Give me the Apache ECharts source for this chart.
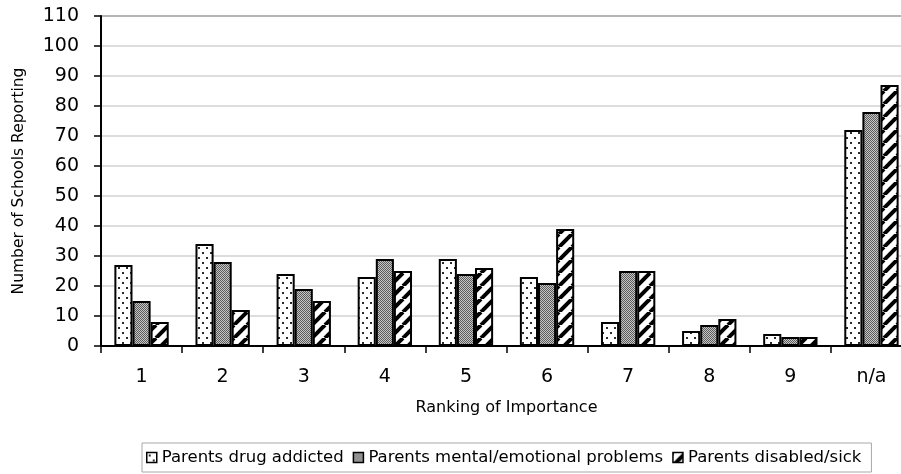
<!DOCTYPE html>
<html>
<head>
<meta charset="utf-8">
<title>Ranking of Importance</title>
<script src="https://cdn.jsdelivr.net/npm/echarts@6/dist/echarts.min.js"></script>
<style>
  html, body { margin: 0; padding: 0; background: #fff; }
  #chart { width: 901px; height: 474px; }
</style>
</head>
<body>
<div id="chart"></div>
<script>
// Ranking categories and the number of schools reporting each ranking
const categories = ['1', '2', '3', '4', '5', '6', '7', '8', '9', 'n/a'];
const drugAddicted = [27, 34, 24, 23, 29, 23, 8, 5, 4, 72];
const mentalEmotional = [15, 28, 19, 29, 24, 21, 25, 7, 3, 78];
const disabledSick = [8, 12, 15, 25, 26, 39, 25, 9, 3, 87];
const seriesNames = ['Parents drug addicted', 'Parents mental/emotional problems', 'Parents disabled/sick'];
const yMin = 0;
const yMax = 110;
const yStep = 10;

const FONT = 'DejaVu Sans';

// Small canvas tiles used as repeating fill patterns
function makeTile(w, h, draw) {
  const c = document.createElement('canvas');
  c.width = w;
  c.height = h;
  const g = c.getContext('2d');
  g.fillStyle = '#fff';
  g.fillRect(0, 0, w, h);
  draw(g, w, h);
  return c;
}

const dotTile = makeTile(8, 10, function (g) {
  g.fillStyle = '#2a2a2a';
  g.fillRect(2, 2, 2, 2);
  g.fillRect(6, 7, 2, 2);
});

const checkTile = makeTile(2, 2, function (g) {
  g.fillStyle = '#c6c6c6';
  g.fillRect(0, 0, 2, 2);
  g.fillStyle = '#5c5c5c';
  g.fillRect(0, 0, 1, 1);
  g.fillRect(1, 1, 1, 1);
});

const stripeTile = makeTile(13, 13, function (g, w, h) {
  g.strokeStyle = '#000';
  g.lineWidth = 4;
  for (let k = -1; k <= 1; k++) {
    g.beginPath();
    g.moveTo(k * w, h);
    g.lineTo(k * w + w, 0);
    g.stroke();
  }
});

const fills = [
  { image: dotTile, repeat: 'repeat' },
  { image: checkTile, repeat: 'repeat' },
  { image: stripeTile, repeat: 'repeat' }
];
const values = [drugAddicted, mentalEmotional, disabledSick];

// Light grid lines, with a darker one along the top of the plot
const gridCount = (yMax - yMin) / yStep + 1;
const gridColors = [];
for (let i = 0; i < gridCount; i++) {
  gridColors.push(i === gridCount - 1 ? '#9c9c9c' : '#d2d2d2');
}

const chart = echarts.init(document.getElementById('chart'), null, { renderer: 'canvas' });

chart.setOption({
  animation: false,
  backgroundColor: '#fff',
  textStyle: { fontFamily: FONT, color: '#000' },
  // the plot runs on past the right edge of the page
  grid: { left: 101, width: 811, top: 16, height: 330, containLabel: false, outerBoundsMode: 'none' },
  legend: {
    left: 142,
    top: 443,
    padding: [6, 10, 6, 4],
    itemWidth: 10,
    itemHeight: 10,
    itemGap: 9,
    borderColor: '#a8a8a8',
    borderWidth: 1,
    backgroundColor: '#fff',
    itemStyle: { borderWidth: 1.5, borderColor: '#000' },
    textStyle: { fontFamily: FONT, fontSize: 16.5, color: '#000' },
    data: seriesNames.map(function (n) { return { name: n, icon: 'rect' }; })
  },
  xAxis: {
    type: 'category',
    data: categories,
    axisLine: { lineStyle: { color: '#000', width: 2 } },
    axisTick: { show: true, length: 7, lineStyle: { color: '#000', width: 1.5 } },
    axisLabel: { fontFamily: FONT, fontSize: 19, color: '#000', margin: 22 },
    name: 'Ranking of Importance',
    nameLocation: 'middle',
    nameGap: 54,
    nameTextStyle: { fontFamily: FONT, fontSize: 16, color: '#000' }
  },
  yAxis: {
    type: 'value',
    min: yMin,
    max: yMax,
    interval: yStep,
    axisLine: { show: true, lineStyle: { color: '#000', width: 2 } },
    axisTick: { show: true, length: 7, lineStyle: { color: '#000', width: 1.5 } },
    axisLabel: { fontFamily: FONT, fontSize: 19, color: '#000', margin: 22 },
    splitLine: { show: true, lineStyle: { color: gridColors, width: 1.5 } },
    name: 'Number of Schools Reporting',
    nameLocation: 'middle',
    nameGap: 74,
    nameRotate: 90,
    nameTextStyle: { fontFamily: FONT, fontSize: 15.5, color: '#000' }
  },
  series: seriesNames.map(function (name, i) {
    return {
      name: name,
      type: 'bar',
      data: values[i],
      barGap: '0%',
      barCategoryGap: '33%',
      itemStyle: { color: fills[i], borderColor: '#000', borderWidth: 2 }
    };
  })
});
</script>
</body>
</html>
